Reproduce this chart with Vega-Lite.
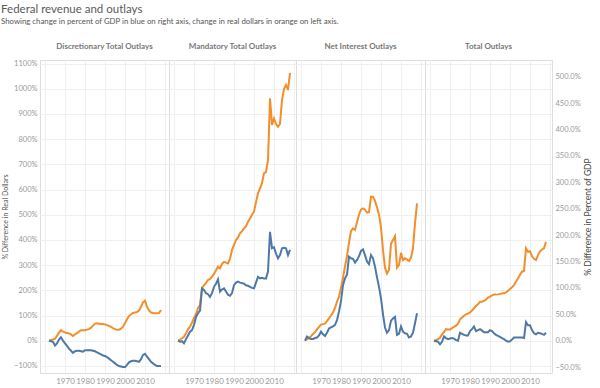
{
  "$schema": "https://vega.github.io/schema/vega-lite/v6.json",
  "padding": {"left": 1, "top": 3, "right": 2, "bottom": 0},
  "background": "white",
  "title": {
    "text": "Federal revenue and outlays",
    "subtitle": "Showing change in percent of GDP in blue on right axis, change in real dollars in orange on left axis.",
    "anchor": "start",
    "frame": "bounds",
    "font": "Lato",
    "fontSize": 11.5,
    "fontWeight": "normal",
    "color": "#5a5a5a",
    "subtitleFont": "Lato",
    "subtitleFontSize": 7.8,
    "subtitleColor": "#555555",
    "subtitlePadding": 3,
    "offset": 16,
    "dx": 0
  },
  "datasets": {
    "disc": [
      {"y":1962,"d":0,"g":0},{"y":1963,"d":0.03,"g":-0.01},{"y":1964,"d":0.05,"g":-0.02},{"y":1965,"d":0.08,"g":-0.09},{"y":1966,"d":0.2,"g":-0.05},{"y":1967,"d":0.32,"g":0.02},{"y":1968,"d":0.42,"g":0.065},{"y":1969,"d":0.36,"g":0},{"y":1970,"d":0.33,"g":-0.05},{"y":1971,"d":0.31,"g":-0.1},{"y":1972,"d":0.29,"g":-0.15},{"y":1973,"d":0.25,"g":-0.19},{"y":1974,"d":0.19,"g":-0.23},{"y":1975,"d":0.25,"g":-0.2},{"y":1976,"d":0.3,"g":-0.19},{"y":1977,"d":0.36,"g":-0.19},{"y":1978,"d":0.42,"g":-0.2},{"y":1979,"d":0.42,"g":-0.21},{"y":1980,"d":0.42,"g":-0.18},{"y":1981,"d":0.44,"g":-0.18},{"y":1982,"d":0.46,"g":-0.18},{"y":1983,"d":0.52,"g":-0.18},{"y":1984,"d":0.6,"g":-0.19},{"y":1985,"d":0.68,"g":-0.2},{"y":1986,"d":0.69,"g":-0.22},{"y":1987,"d":0.67,"g":-0.24},{"y":1988,"d":0.66,"g":-0.26},{"y":1989,"d":0.66,"g":-0.28},{"y":1990,"d":0.65,"g":-0.29},{"y":1991,"d":0.62,"g":-0.31},{"y":1992,"d":0.59,"g":-0.34},{"y":1993,"d":0.55,"g":-0.37},{"y":1994,"d":0.5,"g":-0.4},{"y":1995,"d":0.46,"g":-0.43},{"y":1996,"d":0.44,"g":-0.46},{"y":1997,"d":0.44,"g":-0.48},{"y":1998,"d":0.48,"g":-0.49},{"y":1999,"d":0.56,"g":-0.5},{"y":2000,"d":0.7,"g":-0.5},{"y":2001,"d":0.85,"g":-0.46},{"y":2002,"d":0.98,"g":-0.41},{"y":2003,"d":1.05,"g":-0.39},{"y":2004,"d":1.1,"g":-0.38},{"y":2005,"d":1.12,"g":-0.38},{"y":2006,"d":1.14,"g":-0.39},{"y":2007,"d":1.2,"g":-0.4},{"y":2008,"d":1.35,"g":-0.35},{"y":2009,"d":1.52,"g":-0.27},{"y":2010,"d":1.59,"g":-0.25},{"y":2011,"d":1.35,"g":-0.3},{"y":2012,"d":1.2,"g":-0.35},{"y":2013,"d":1.12,"g":-0.4},{"y":2014,"d":1.1,"g":-0.43},{"y":2015,"d":1.09,"g":-0.46},{"y":2016,"d":1.09,"g":-0.48},{"y":2017,"d":1.1,"g":-0.48},{"y":2018,"d":1.22,"g":-0.48}
    ],
    "mand": [
      {"y":1962,"d":0,"g":0},{"y":1963,"d":0.05,"g":-0.02},{"y":1964,"d":0.1,"g":-0.01},{"y":1965,"d":0.16,"g":-0.05},{"y":1966,"d":0.3,"g":0.03},{"y":1967,"d":0.45,"g":0.1},{"y":1968,"d":0.56,"g":0.17},{"y":1969,"d":0.72,"g":0.2},{"y":1970,"d":0.9,"g":0.3},{"y":1971,"d":1.05,"g":0.45},{"y":1972,"d":1.3,"g":0.52},{"y":1973,"d":1.42,"g":0.57},{"y":1974,"d":2.1,"g":0.99},{"y":1975,"d":2.2,"g":0.96},{"y":1976,"d":2.3,"g":0.9},{"y":1977,"d":2.41,"g":0.88},{"y":1978,"d":2.45,"g":0.83},{"y":1979,"d":2.54,"g":0.9},{"y":1980,"d":2.65,"g":1.02},{"y":1981,"d":2.8,"g":1.08},{"y":1982,"d":2.94,"g":1.16},{"y":1983,"d":2.87,"g":0.93},{"y":1984,"d":3.05,"g":0.97},{"y":1985,"d":3.13,"g":0.99},{"y":1986,"d":3.1,"g":0.93},{"y":1987,"d":3.07,"g":0.87},{"y":1988,"d":3.25,"g":0.85},{"y":1989,"d":3.6,"g":0.9},{"y":1990,"d":3.8,"g":1.05},{"y":1991,"d":4.0,"g":1.1},{"y":1992,"d":4.1,"g":1.12},{"y":1993,"d":4.26,"g":1.1},{"y":1994,"d":4.35,"g":1.09},{"y":1995,"d":4.46,"g":1.08},{"y":1996,"d":4.55,"g":1.05},{"y":1997,"d":4.72,"g":1.04},{"y":1998,"d":4.85,"g":1.02},{"y":1999,"d":5.0,"g":1.0},{"y":2000,"d":5.12,"g":0.99},{"y":2001,"d":5.5,"g":1.1},{"y":2002,"d":5.85,"g":1.21},{"y":2003,"d":6.05,"g":1.18},{"y":2004,"d":6.25,"g":1.19},{"y":2005,"d":6.64,"g":1.18},{"y":2006,"d":6.7,"g":1.18},{"y":2007,"d":7.17,"g":1.31},{"y":2008,"d":9.62,"g":2.06},{"y":2009,"d":8.56,"g":1.75},{"y":2010,"d":8.82,"g":1.77},{"y":2011,"d":8.6,"g":1.65},{"y":2012,"d":8.49,"g":1.56},{"y":2013,"d":8.6,"g":1.62},{"y":2014,"d":9.55,"g":1.75},{"y":2015,"d":10.0,"g":1.76},{"y":2016,"d":10.15,"g":1.75},{"y":2017,"d":9.95,"g":1.62},{"y":2018,"d":10.63,"g":1.72}
    ],
    "intr": [
      {"y":1962,"d":0,"g":0},{"y":1963,"d":0.06,"g":0.08},{"y":1964,"d":0.11,"g":0.05},{"y":1965,"d":0.18,"g":0.03},{"y":1966,"d":0.27,"g":0.03},{"y":1967,"d":0.34,"g":0.05},{"y":1968,"d":0.45,"g":0.06},{"y":1969,"d":0.55,"g":0.1},{"y":1970,"d":0.64,"g":0.17},{"y":1971,"d":0.66,"g":0.12},{"y":1972,"d":0.68,"g":0.09},{"y":1973,"d":0.78,"g":0.15},{"y":1974,"d":0.89,"g":0.23},{"y":1975,"d":1.0,"g":0.25},{"y":1976,"d":1.12,"g":0.27},{"y":1977,"d":1.3,"g":0.3},{"y":1978,"d":1.55,"g":0.39},{"y":1979,"d":1.75,"g":0.55},{"y":1980,"d":2.1,"g":0.75},{"y":1981,"d":2.5,"g":1.05},{"y":1982,"d":2.95,"g":1.18},{"y":1983,"d":3.35,"g":1.25},{"y":1984,"d":3.9,"g":1.59},{"y":1985,"d":4.35,"g":1.56},{"y":1986,"d":4.46,"g":1.55},{"y":1987,"d":4.4,"g":1.48},{"y":1988,"d":4.7,"g":1.53},{"y":1989,"d":5.0,"g":1.6},{"y":1990,"d":5.2,"g":1.7},{"y":1991,"d":5.25,"g":1.73},{"y":1992,"d":5.2,"g":1.62},{"y":1993,"d":5.08,"g":1.5},{"y":1994,"d":5.1,"g":1.45},{"y":1995,"d":5.71,"g":1.62},{"y":1996,"d":5.71,"g":1.56},{"y":1997,"d":5.55,"g":1.4},{"y":1998,"d":5.3,"g":1.2},{"y":1999,"d":5.0,"g":1.02},{"y":2000,"d":4.5,"g":0.8},{"y":2001,"d":3.6,"g":0.5},{"y":2002,"d":2.9,"g":0.25},{"y":2003,"d":2.67,"g":0.15},{"y":2004,"d":2.81,"g":0.2},{"y":2005,"d":3.85,"g":0.38},{"y":2006,"d":4.0,"g":0.42},{"y":2007,"d":4.15,"g":0.45},{"y":2008,"d":2.9,"g":0.11},{"y":2009,"d":3.0,"g":0.13},{"y":2010,"d":3.49,"g":0.27},{"y":2011,"d":3.2,"g":0.17},{"y":2012,"d":3.27,"g":0.14},{"y":2013,"d":3.22,"g":0.13},{"y":2014,"d":3.16,"g":0.06},{"y":2015,"d":3.3,"g":0.08},{"y":2016,"d":3.67,"g":0.15},{"y":2017,"d":4.66,"g":0.33},{"y":2018,"d":5.45,"g":0.52}
    ],
    "total": [
      {"y":1962,"d":0,"g":0},{"y":1963,"d":0.03,"g":-0.01},{"y":1964,"d":0.06,"g":-0.02},{"y":1965,"d":0.12,"g":-0.07},{"y":1966,"d":0.25,"g":-0.02},{"y":1967,"d":0.35,"g":0.08},{"y":1968,"d":0.46,"g":0.05},{"y":1969,"d":0.45,"g":0.03},{"y":1970,"d":0.45,"g":0.04},{"y":1971,"d":0.5,"g":0.05},{"y":1972,"d":0.55,"g":0.04},{"y":1973,"d":0.6,"g":0.01},{"y":1974,"d":0.68,"g":0.0},{"y":1975,"d":0.85,"g":0.15},{"y":1976,"d":0.92,"g":0.13},{"y":1977,"d":0.99,"g":0.11},{"y":1978,"d":1.05,"g":0.1},{"y":1979,"d":1.08,"g":0.1},{"y":1980,"d":1.12,"g":0.18},{"y":1981,"d":1.2,"g":0.22},{"y":1982,"d":1.29,"g":0.27},{"y":1983,"d":1.38,"g":0.18},{"y":1984,"d":1.45,"g":0.2},{"y":1985,"d":1.55,"g":0.22},{"y":1986,"d":1.55,"g":0.19},{"y":1987,"d":1.58,"g":0.16},{"y":1988,"d":1.63,"g":0.16},{"y":1989,"d":1.71,"g":0.16},{"y":1990,"d":1.75,"g":0.2},{"y":1991,"d":1.8,"g":0.18},{"y":1992,"d":1.83,"g":0.14},{"y":1993,"d":1.83,"g":0.11},{"y":1994,"d":1.84,"g":0.09},{"y":1995,"d":1.86,"g":0.07},{"y":1996,"d":1.87,"g":0.05},{"y":1997,"d":1.88,"g":0.03},{"y":1998,"d":1.92,"g":0.0},{"y":1999,"d":1.98,"g":-0.02},{"y":2000,"d":2.05,"g":-0.01},{"y":2001,"d":2.12,"g":0.02},{"y":2002,"d":2.21,"g":0.06},{"y":2003,"d":2.35,"g":0.06},{"y":2004,"d":2.47,"g":0.06},{"y":2005,"d":2.62,"g":0.06},{"y":2006,"d":2.74,"g":0.06},{"y":2007,"d":2.77,"g":0.05},{"y":2008,"d":3.67,"g":0.35},{"y":2009,"d":3.53,"g":0.29},{"y":2010,"d":3.55,"g":0.29},{"y":2011,"d":3.35,"g":0.2},{"y":2012,"d":3.25,"g":0.14},{"y":2013,"d":3.2,"g":0.12},{"y":2014,"d":3.4,"g":0.15},{"y":2015,"d":3.55,"g":0.14},{"y":2016,"d":3.62,"g":0.13},{"y":2017,"d":3.67,"g":0.11},{"y":2018,"d":3.93,"g":0.15}
    ]
  },
  "spacing": 0,
  "bounds": "flush",
  "hconcat": [
    {
      "data": {"name": "disc"},
      "width": 129, "height": 313,
      "title": {"text": "Discretionary Total Outlays"},
      "encoding": {
        "x": {"field": "y", "type": "quantitative", "scale": {"domain": [1957.5, 2022], "nice": false, "zero": false},
              "axis": {"values": [1960,1970,1980,1990,2000,2010,2020], "format": "d", "labelOverlap": false, "labelFlush": false, "labelExpr": "datum.value==1960||datum.value==2020?'':datum.label", "title": null}}
      },
      "layer": [
        {"mark": {"type": "line", "color": "#f28e2b", "strokeWidth": 2},
         "encoding": {
           "y": {"field": "d", "type": "quantitative", "scale": {"domain": [-1.28, 11.14], "nice": false, "zero": false},
                 "axis": {"orient": "left", "values": [-1,0,1,2,3,4,5,6,7,8,9,10,11], "format": ".0%", "title": "% Difference in Real Dollars", "titleFontSize": 7, "titleColor": "#555555", "titleFontWeight": "normal", "titlePadding": 5, "labelFontSize": 7.5, "labelPadding": 3}}
         }},
        {"mark": {"type": "line", "color": "#4e79a7", "strokeWidth": 2},
         "encoding": {
           "y": {"field": "g", "type": "quantitative", "scale": {"domain": [-0.612, 5.316], "nice": false, "zero": false}, "axis": null}
         }}
      ],
      "resolve": {"scale": {"y": "independent"}}
    },
    {
      "data": {"name": "mand"},
      "width": 127, "height": 313,
      "title": {"text": "Mandatory Total Outlays"},
      "encoding": {
        "x": {"field": "y", "type": "quantitative", "scale": {"domain": [1957.5, 2021], "nice": false, "zero": false},
              "axis": {"values": [1960,1970,1980,1990,2000,2010,2020], "format": "d", "labelOverlap": false, "labelFlush": false, "labelExpr": "datum.value==1960||datum.value==2020?'':datum.label", "title": null}}
      },
      "layer": [
        {"mark": {"type": "line", "color": "#f28e2b", "strokeWidth": 2},
         "encoding": {
           "y": {"field": "d", "type": "quantitative", "scale": {"domain": [-1.28, 11.14], "nice": false, "zero": false},
                 "axis": {"orient": "left", "values": [-1,0,1,2,3,4,5,6,7,8,9,10,11], "labels": false, "title": null}}
         }},
        {"mark": {"type": "line", "color": "#4e79a7", "strokeWidth": 2},
         "encoding": {
           "y": {"field": "g", "type": "quantitative", "scale": {"domain": [-0.612, 5.316], "nice": false, "zero": false}, "axis": null}
         }}
      ],
      "resolve": {"scale": {"y": "independent"}}
    },
    {
      "data": {"name": "intr"},
      "width": 129, "height": 313,
      "title": {"text": "Net Interest Outlays"},
      "encoding": {
        "x": {"field": "y", "type": "quantitative", "scale": {"domain": [1957.5, 2022], "nice": false, "zero": false},
              "axis": {"values": [1960,1970,1980,1990,2000,2010,2020], "format": "d", "labelOverlap": false, "labelFlush": false, "labelExpr": "datum.value==1960||datum.value==2020?'':datum.label", "title": null}}
      },
      "layer": [
        {"mark": {"type": "line", "color": "#f28e2b", "strokeWidth": 2},
         "encoding": {
           "y": {"field": "d", "type": "quantitative", "scale": {"domain": [-1.28, 11.14], "nice": false, "zero": false},
                 "axis": {"orient": "left", "values": [-1,0,1,2,3,4,5,6,7,8,9,10,11], "labels": false, "title": null}}
         }},
        {"mark": {"type": "line", "color": "#4e79a7", "strokeWidth": 2},
         "encoding": {
           "y": {"field": "g", "type": "quantitative", "scale": {"domain": [-0.612, 5.316], "nice": false, "zero": false}, "axis": null}
         }}
      ],
      "resolve": {"scale": {"y": "independent"}}
    },
    {
      "data": {"name": "total"},
      "width": 127, "height": 313,
      "title": {"text": "Total Outlays"},
      "encoding": {
        "x": {"field": "y", "type": "quantitative", "scale": {"domain": [1957.5, 2021], "nice": false, "zero": false},
              "axis": {"values": [1960,1970,1980,1990,2000,2010,2020], "format": "d", "labelOverlap": false, "labelFlush": false, "labelExpr": "datum.value==1960||datum.value==2020?'':datum.label", "title": null}}
      },
      "layer": [
        {"mark": {"type": "line", "color": "#f28e2b", "strokeWidth": 2},
         "encoding": {
           "y": {"field": "d", "type": "quantitative", "scale": {"domain": [-1.28, 11.14], "nice": false, "zero": false},
                 "axis": {"orient": "left", "values": [-1,0,1,2,3,4,5,6,7,8,9,10,11], "labels": false, "title": null}}
         }},
        {"mark": {"type": "line", "color": "#4e79a7", "strokeWidth": 2},
         "encoding": {
           "y": {"field": "g", "type": "quantitative", "scale": {"domain": [-0.612, 5.316], "nice": false, "zero": false},
                 "axis": {"orient": "right", "values": [-0.5,0,0.5,1,1.5,2,2.5,3,3.5,4,4.5,5], "format": ".1%", "grid": false, "title": "% Difference in Percent of GDP", "titleAngle": 270, "titleBaseline": "bottom", "titleFontSize": 8.5, "titleColor": "#444444", "titleFontWeight": "normal", "titlePadding": 12, "labelFontSize": 7.5, "labelPadding": 3}}
         }}
      ],
      "resolve": {"scale": {"y": "independent"}}
    }
  ],
  "config": {
    "font": "Lato",
    "view": {"stroke": "#dddddd", "strokeWidth": 1},
    "axis": {
      "domain": false,
      "ticks": false,
      "grid": true,
      "gridColor": "#f0f0f0",
      "gridWidth": 1,
      "labelColor": "#999999",
      "labelFont": "Lato",
      "labelFontSize": 8,
      "labelPadding": 4
    },
    "axisX": {"labelFontSize": 8, "labelPadding": 4},
    "title": {
      "font": "Lato",
      "fontSize": 8,
      "fontWeight": "bold",
      "color": "#777777",
      "anchor": "middle",
      "offset": 9
    }
  }
}
